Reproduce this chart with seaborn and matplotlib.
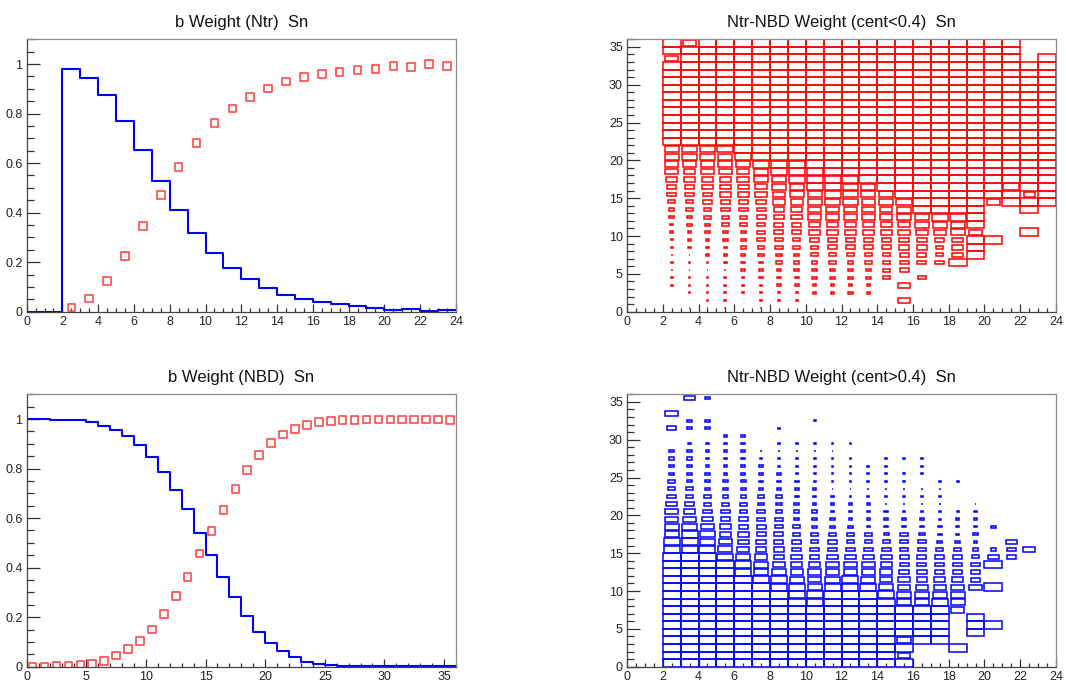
import numpy as np
import matplotlib
matplotlib.use("Agg")
import matplotlib.pyplot as plt
from matplotlib.patches import Rectangle
from matplotlib.ticker import MultipleLocator, FormatStrFormatter
import seaborn as sns

# ------------------------------------------------------------
# b Weight (Ntr) Sn : histogram (blue) + markers (red)
# ------------------------------------------------------------
ntr_edges = list(range(0, 25))
ntr_blue = [0, 0, 0.98, 0.945, 0.875, 0.772, 0.653, 0.526, 0.412, 0.316, 0.237,
            0.176, 0.131, 0.097, 0.068, 0.051, 0.038, 0.030, 0.022, 0.016,
            0.008, 0.011, 0.001, 0.007]
ntr_red_x = np.arange(2.5, 24, 1.0)
ntr_red = [0.017, 0.054, 0.124, 0.225, 0.346, 0.471, 0.585, 0.682, 0.762, 0.821,
           0.868, 0.902, 0.929, 0.948, 0.961, 0.969, 0.976, 0.981, 0.993, 0.987,
           1.0, 0.993]

# ------------------------------------------------------------
# b Weight (NBD) Sn
# ------------------------------------------------------------
nbd_edges = list(range(0, 37))
nbd_blue = [1.0, 1.0, 0.997, 0.997, 0.995, 0.987, 0.974, 0.955, 0.931, 0.896,
            0.848, 0.786, 0.714, 0.637, 0.539, 0.451, 0.364, 0.280, 0.204, 0.142,
            0.094, 0.063, 0.040, 0.020, 0.012, 0.007, 0.003, 0.001, 0.001, 0.001,
            0.001, 0.001, 0.001, 0.001, 0.001, 0.004]
nbd_red_x = np.arange(0.5, 36, 1.0)
nbd_red = [0.0, 0.001, 0.002, 0.003, 0.007, 0.012, 0.023, 0.045, 0.071, 0.105,
           0.151, 0.213, 0.286, 0.361, 0.457, 0.547, 0.633, 0.717, 0.795, 0.856,
           0.903, 0.937, 0.960, 0.977, 0.987, 0.992, 0.996, 0.997, 0.999, 0.999,
           0.999, 0.999, 0.999, 0.999, 0.999, 0.995]

# ------------------------------------------------------------
# Ntr-NBD weight maps (box size per cell)
# one string per x bin (2..23), one char per y bin (0..35, bottom -> top)
# '0' empty, '1'-'9' -> 0.1..0.9 of cell, 'X' -> full cell
# ------------------------------------------------------------
box_x_bins = list(range(2, 24))

cent_lo = [
    "0001111111223345567788XXXXXXXXXXX7XX",
    "1011111122233445566788XXXXXXXXXXXXX7",
    "1111111222334455667788XXXXXXXXXXXXXX",
    "1111112223344556667889XXXXXXXXXXXXXX",
    "001112223334455667789XXXXXXXXXXXXXXX",
    "11112223344455677889XXXXXXXXXXXXXXXX",
    "01122233445566778899XXXXXXXXXXXXXXXX",
    "01122333445566788999XXXXXXXXXXXXXXXX",
    "0022333445667788999XXXXXXXXXXXXXXXXX",
    "002233445566778999XXXXXXXXXXXXXXXXXX",
    "003233345566778889XXXXXXXXXXXXXXXXXX",
    "00223344556677788XXXXXXXXXXXXXXXXXXX",
    "0000444455667788XXXXXXXXXXXXXXXXXXXX",
    "070705556677889XXXXXXXXXXXXXXXXXXXXX",
    "0000405566788XXXXXXXXXXXXXXXXXXXXXXX",
    "0000005445789XXXXXXXXXXXXXXXXXXXXXXX",
    "000000X666889XXXXXXXXXXXXXXXXXXXXXXX",
    "0000000XXX7XXXXXXXXXXXXXXXXXXXXXXXXX",
    "000000000X00007XXXXXXXXXXXXXXXXXXXXX",
    "00000000000000XX9XXXXXXXXXXXXXXXXXXX",
    "0000000000X00XX6XXXXXXXXXXXXXXXXX000",
    "00000000000000XXXXXXXXXXXXXXXXXXXX00",
]

cent_hi = [
    "XXXXXXXXXXXXXXX998877654433330050700",
    "XXXXXXXXXXXXXXX999876544333332033006",
    "XXXXXXXXXXXXXXX988765443332222033003",
    "XXXXXXXXXXXXXX9876655433322222200000",
    "XXXXXXXXXXXX998766554433322222200000",
    "XXXXXXXXXXX9887665544332222110000000",
    "XXXXXXXXXX99876655443332221111010000",
    "XXXXXXXXX998766554433322211111000000",
    "XXXXXXXX9987765544333222111111001000",
    "XXXXXXXXXX98776554332221111111000000",
    "XXXXXXXXXX99776544322211111101000000",
    "XXXXXXXXXX98776544222211111000000000",
    "XXXXXXXXX987766543222111111100000000",
    "X7X8XXXX8877655444221111110100000000",
    "000XXXXX8876655443221111011100000000",
    "000XXXXX9876555432211111100000000000",
    "00X000078876555432221000100000000000",
    "0000XXX00075554323222100000000000000",
    "00000X0000X00X6300300000000000000000",
    "000000000000005560000000000000000000",
    "000000000000000700000000000000000000",
    "000000000000000000000000000000000000",
]

titles = ["b Weight (Ntr)  Sn", "Ntr-NBD Weight (cent<0.4)  Sn",
          "b Weight (NBD)  Sn", "Ntr-NBD Weight (cent>0.4)  Sn"]

BLUE = "#0000ff"
RED = "#ff0000"
MARKER_RED = "#ff4a4a"


def style_frame(ax, title, xmax, xmaj, xmin, ymax, ymaj, ymin):
    ax.set_xlim(0, xmax)
    ax.set_ylim(0, ymax)
    ax.xaxis.set_major_locator(MultipleLocator(xmaj))
    ax.xaxis.set_minor_locator(MultipleLocator(xmin))
    ax.yaxis.set_major_locator(MultipleLocator(ymaj))
    ax.yaxis.set_minor_locator(MultipleLocator(ymin))
    ax.xaxis.set_major_formatter(FormatStrFormatter('%g'))
    ax.yaxis.set_major_formatter(FormatStrFormatter('%g'))
    ax.tick_params(which='both', direction='in', bottom=True, left=True,
                   top=False, right=False, color='#333333', width=0.9,
                   labelsize=9, labelcolor='#222222')
    ax.tick_params(axis='x', which='major', length=6, pad=3)
    ax.tick_params(axis='x', which='minor', length=3)
    ax.tick_params(axis='y', which='major', length=9, pad=3)
    ax.tick_params(axis='y', which='minor', length=4.8)
    for side in ('left', 'bottom'):
        ax.spines[side].set_color('#444444')
        ax.spines[side].set_linewidth(0.9)
    for side in ('top', 'right'):
        ax.spines[side].set_color('#8a8a8a')
        ax.spines[side].set_linewidth(0.9)
    ax.set_xlabel('')
    ax.set_ylabel('')
    ax.set_title(title, fontsize=12, pad=9, color='#111111')


def draw_hist(ax, edges, blue, red_x, red):
    sns.lineplot(x=edges, y=blue + [blue[-1]], drawstyle='steps-post',
                 color=BLUE, lw=1.5, estimator=None, sort=False, ax=ax)
    sns.scatterplot(x=red_x, y=red, marker='s', s=30, facecolor='none',
                    edgecolor=MARKER_RED, linewidth=1.2, ax=ax, zorder=3)


def draw_boxes(ax, cols, color):
    for xb, col in zip(box_x_bins, cols):
        assert len(col) == 36, (xb, len(col))
        for yb, ch in enumerate(col):
            frac = 1.0 if ch == 'X' else int(ch) / 10
            if frac == 0:
                continue
            ax.add_patch(Rectangle((xb + 0.5 - frac / 2, yb + 0.5 - frac / 2),
                                   frac, frac, fill=False, edgecolor=color,
                                   linewidth=1.1))


sns.set_theme(style="ticks")
plt.rcParams['font.family'] = ['Liberation Sans', 'DejaVu Sans']

fig = plt.figure(figsize=(10.66, 6.81), dpi=100)
fig.patch.set_facecolor('white')

ax_tl = fig.add_axes([0.025, 0.5423, 0.4027, 0.4])
ax_tr = fig.add_axes([0.5882, 0.5423, 0.4024, 0.4])
ax_bl = fig.add_axes([0.025, 0.021, 0.4027, 0.4])
ax_br = fig.add_axes([0.5882, 0.021, 0.4024, 0.4])

draw_hist(ax_tl, ntr_edges, ntr_blue, ntr_red_x, ntr_red)
style_frame(ax_tl, titles[0], 24, 2, 0.5, 1.1, 0.2, 0.05)

draw_boxes(ax_tr, cent_lo, RED)
style_frame(ax_tr, titles[1], 24, 2, 0.5, 36, 5, 1)

draw_hist(ax_bl, nbd_edges, nbd_blue, nbd_red_x, nbd_red)
style_frame(ax_bl, titles[2], 36, 5, 1, 1.1, 0.2, 0.05)

draw_boxes(ax_br, cent_hi, BLUE)
style_frame(ax_br, titles[3], 24, 2, 0.5, 36, 5, 1)

fig.savefig("out.png", dpi=100, facecolor='white')
